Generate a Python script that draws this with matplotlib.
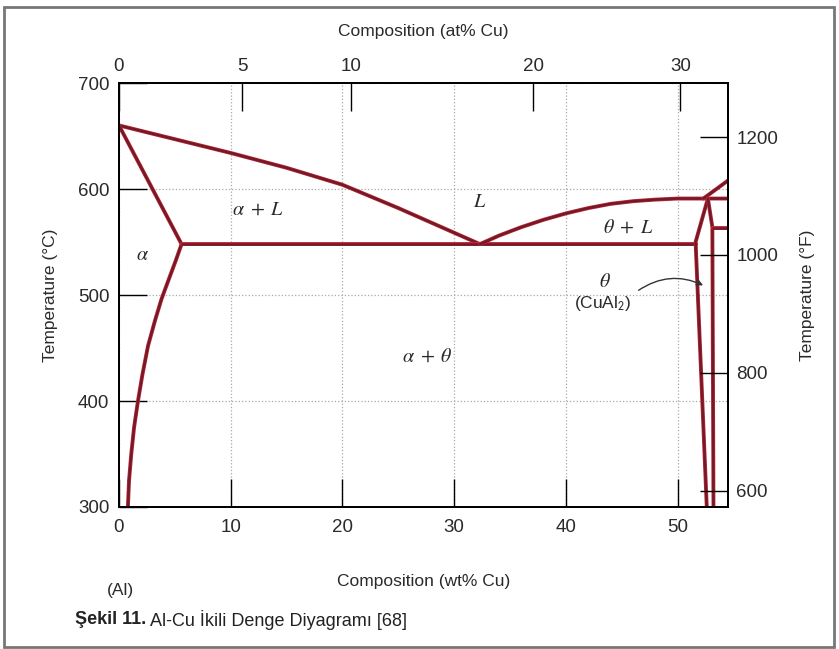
"""
Al-Cu binary phase diagram (Callister style), wt% / at% Cu, degC / degF.
"""
import numpy as np
import matplotlib.pyplot as plt
import matplotlib as mpl
import matplotlib.patheffects as pe
from matplotlib.patches import Rectangle

mpl.rcParams.update({
    "font.family": ["Liberation Sans", "DejaVu Sans"],
    "mathtext.fontset": "stix",
    "axes.linewidth": 1.3,
})

# ---- phase boundaries (wt% Cu, degC) ----
LIQ_LEFT_WT = [0, 5, 10, 15, 20, 25, 32.3]
LIQ_LEFT_T = [660, 647, 634, 620, 604, 582, 548]

SOLIDUS_WT = [0, 5.6]
SOLIDUS_T = [660, 548]

SOLVUS_WT = [5.6, 5.1, 4.5, 3.8, 3.2, 2.6, 2.1, 1.7, 1.35, 1.1, 0.9, 0.8]
SOLVUS_T = [548, 533, 516, 496, 475, 452, 425, 400, 375, 350, 325, 300]

EUTECTIC_WT = [5.6, 51.6]
EUTECTIC_T = [548, 548]

LIQ_RIGHT_WT = [32.3, 34, 36, 38, 40, 42, 44, 46, 48, 50, 52.7, 54.5]
LIQ_RIGHT_T = [548, 556, 564, 571, 577, 582, 586, 588.5, 590, 591, 591, 591]

LIQ_UPPER_WT = [52.3, 54.5]
LIQ_UPPER_T = [591, 608]

THETA_LEFT_WT = [52.7, 51.6, 52.6]
THETA_LEFT_T = [591, 550, 300]

THETA_RIGHT_WT = [52.7, 53.1, 53.2]
THETA_RIGHT_T = [591, 564, 300]

ETA_WT = [53.2, 54.5]
ETA_T = [563, 563]

# ---- axes ----
WT_TICKS = [0, 10, 20, 30, 40, 50]
AT_TICKS = [0, 5, 10, 20, 30]
C_TICKS = [300, 400, 500, 600, 700]
F_TICKS = [600, 800, 1000, 1200]
XMAX = 54.5
TMIN, TMAX = 300, 700

M_CU, M_AL = 63.55, 26.98

LINE_DARK = "#741a26"
LINE_RED = "#c0283a"


def wt_to_at(w):
    w = np.asarray(w, dtype=float)
    a = (w / M_CU) / (w / M_CU + (100 - w) / M_AL)
    return 100 * a


def at_to_wt(a):
    a = np.asarray(a, dtype=float)
    w = a * M_CU / (a * M_CU + (100 - a) * M_AL)
    return 100 * w


def c_to_f(c):
    return np.asarray(c, dtype=float) * 9 / 5 + 32


def boundary(ax, x, y):
    ax.plot(x, y, color=LINE_DARK, lw=1.8, solid_capstyle="round",
            solid_joinstyle="round", zorder=3,
            path_effects=[pe.Stroke(linewidth=2.8, foreground=LINE_RED),
                          pe.Normal()])


def main():
    fig = plt.figure(figsize=(8.39, 6.49), dpi=100)
    ax = fig.add_axes([0.1418, 0.2188, 0.7259, 0.6533])

    for xs, ys in [(LIQ_LEFT_WT, LIQ_LEFT_T), (SOLIDUS_WT, SOLIDUS_T),
                   (SOLVUS_WT, SOLVUS_T), (EUTECTIC_WT, EUTECTIC_T),
                   (LIQ_RIGHT_WT, LIQ_RIGHT_T), (LIQ_UPPER_WT, LIQ_UPPER_T),
                   (THETA_LEFT_WT, THETA_LEFT_T), (THETA_RIGHT_WT, THETA_RIGHT_T),
                   (ETA_WT, ETA_T)]:
        boundary(ax, xs, ys)

    ax.set_xlim(0, XMAX)
    ax.set_ylim(TMIN, TMAX)
    ax.set_xticks(WT_TICKS)
    ax.set_yticks(C_TICKS)
    ax.tick_params(direction="in", length=20, width=1.0, labelsize=13.5,
                   labelcolor="#2a2a2a", pad=7)
    ax.tick_params(axis="x", pad=9)
    ax.grid(True, color="#a8a8a8", linestyle=":", linewidth=0.9)
    ax.set_axisbelow(True)

    ax.set_xlabel("Composition (wt% Cu)", fontsize=12.5, labelpad=27, color="#2a2a2a")
    ax.set_ylabel("Temperature (°C)", fontsize=12.5, labelpad=14.5, color="#2a2a2a")

    # top: at% Cu
    top = ax.secondary_xaxis("top", functions=(wt_to_at, at_to_wt))
    top.set_xticks(AT_TICKS)
    top.tick_params(direction="in", length=20, width=1.0, labelsize=13.5,
                    labelcolor="#2a2a2a", pad=6)
    top.set_xlabel("Composition (at% Cu)", fontsize=12.5, labelpad=15.5, color="#2a2a2a")

    # right: degF
    right = ax.twinx()
    right.set_ylim(c_to_f(TMIN), c_to_f(TMAX))
    right.set_yticks(F_TICKS)
    right.tick_params(direction="in", length=20, width=1.0, labelsize=13.5,
                      labelcolor="#2a2a2a", pad=6)
    right.set_ylabel("Temperature (°F)", fontsize=12.5, labelpad=16, color="#2a2a2a")

    # phase labels
    lab = dict(fontsize=14.5, color="#2a2a2a", ha="center", va="center")
    ax.text(32.3, 588, r"$L$", **lab)
    ax.text(12.4, 581, r"$\alpha\;+\;L$", **lab)
    ax.text(2.1, 538, r"$\alpha$", **lab)
    ax.text(45.6, 564, r"$\theta\;+\;L$", **lab)
    ax.text(27.6, 442, r"$\alpha\;+\;\theta$", **lab)
    ax.text(43.5, 513, r"$\theta$", **lab)
    ax.text(43.3, 492, r"(CuAl$_\mathsf{2}$)", fontsize=12.5, color="#2a2a2a",
            ha="center", va="center")
    ax.annotate("", xy=(52.5, 508), xytext=(46.3, 503),
                arrowprops=dict(arrowstyle="-|>", color="#333333", lw=1.0,
                                mutation_scale=9,
                                connectionstyle="arc3,rad=-0.3"))

    fig.text(120 / 839, 1 - 590 / 649, "(Al)", fontsize=12.5, color="#2a2a2a",
             ha="center", va="center")

    # caption
    cap_y = 1 - 620 / 649
    t1 = fig.text(75 / 839, cap_y, "Şekil 11.", fontsize=13, fontweight="bold",
                  color="#222222", va="center")
    fig.canvas.draw()
    bb = t1.get_window_extent()
    x2 = (bb.x1 + 4) / fig.bbox.width
    fig.text(x2, cap_y, "Al-Cu İkili Denge Diyagramı [68]", fontsize=13,
             color="#222222", va="center")

    # outer frame
    fig.patches.append(Rectangle((4 / 839, 2 / 649), 830 / 839, 640 / 649,
                                 transform=fig.transFigure, fill=False,
                                 edgecolor="#777777", linewidth=2))

    fig.savefig("out.png", dpi=100)


if __name__ == "__main__":
    main()
